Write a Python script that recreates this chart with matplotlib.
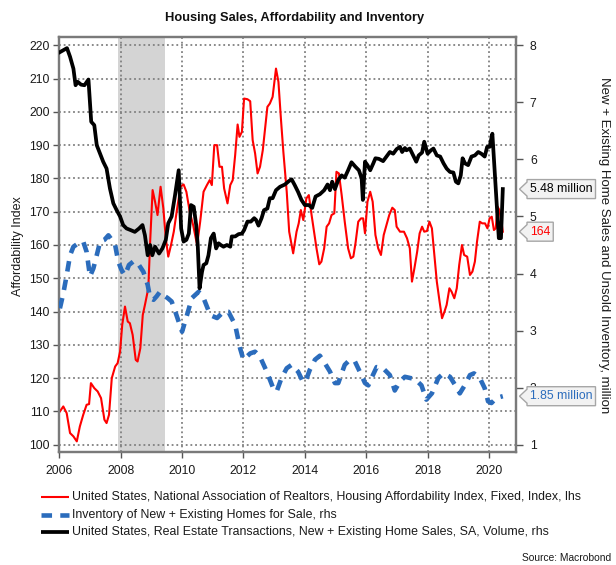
import matplotlib
matplotlib.use('Agg')
import matplotlib.pyplot as plt
from matplotlib.lines import Line2D
from matplotlib.patches import Polygon
from matplotlib.transforms import IdentityTransform

plt.rcParams['font.family'] = ['Liberation Sans', 'DejaVu Sans']

# ---------------- data ----------------
afford_x = [2006.02, 2006.13, 2006.24, 2006.35, 2006.46, 2006.57, 2006.67, 2006.78, 2006.89, 2006.97,
            2007.03, 2007.14, 2007.25, 2007.36, 2007.47, 2007.54, 2007.62, 2007.71, 2007.82, 2007.90,
            2007.98, 2008.05, 2008.14, 2008.23, 2008.30, 2008.39, 2008.49, 2008.55, 2008.64, 2008.72,
            2008.79, 2008.90, 2008.96, 2009.04, 2009.12, 2009.20, 2009.30, 2009.39, 2009.47, 2009.55,
            2009.64, 2009.73, 2009.84, 2009.95, 2010.05, 2010.14, 2010.25, 2010.36, 2010.49, 2010.59,
            2010.70, 2010.81, 2010.90, 2010.97, 2011.05, 2011.14, 2011.22, 2011.30, 2011.37, 2011.48,
            2011.57, 2011.65, 2011.73, 2011.81, 2011.87, 2011.95, 2012.02, 2012.13, 2012.22, 2012.30,
            2012.38, 2012.46, 2012.54, 2012.63, 2012.70, 2012.78, 2012.86, 2012.95, 2013.06, 2013.14,
            2013.22, 2013.30, 2013.41, 2013.49, 2013.62, 2013.73, 2013.80, 2013.87, 2013.95, 2014.05,
            2014.13, 2014.22, 2014.30, 2014.38, 2014.47, 2014.54, 2014.63, 2014.71, 2014.79, 2014.87,
            2014.96, 2015.03, 2015.11, 2015.20, 2015.30, 2015.41, 2015.50, 2015.58, 2015.65, 2015.74,
            2015.83, 2015.90, 2015.96, 2016.04, 2016.13, 2016.21, 2016.30, 2016.39, 2016.48, 2016.57,
            2016.66, 2016.75, 2016.85, 2016.93, 2016.99, 2017.10, 2017.23, 2017.33, 2017.42, 2017.49,
            2017.57, 2017.66, 2017.74, 2017.82, 2017.89, 2017.98, 2018.06, 2018.14, 2018.22, 2018.30,
            2018.39, 2018.47, 2018.55, 2018.62, 2018.71, 2018.78, 2018.87, 2018.95, 2019.03, 2019.12,
            2019.19, 2019.29, 2019.38, 2019.46, 2019.54, 2019.61, 2019.70, 2019.78, 2019.87, 2019.95,
            2020.02, 2020.09, 2020.16, 2020.22, 2020.28, 2020.34, 2020.42, 2020.45]
afford_y = [110, 111.5, 109.5, 103.5, 102.5, 101, 105.5, 109, 112, 112.2,
            118.5, 117, 116, 114, 107.5, 106.5, 109, 120, 123.5, 124.5,
            128, 136, 141.5, 137, 136.5, 133, 125.5, 125, 129, 139,
            142, 147, 161, 176.5, 173, 169, 177.5, 171, 162, 156.5,
            160, 164, 171, 177.5, 178.2, 176, 170, 166, 160, 167,
            176, 178, 179.5, 178, 190, 190, 183.5, 183.5, 177, 172.5,
            178, 179.5, 187, 196.2, 192.5, 194, 204, 203.8, 203.2, 191.5,
            187.5, 181.5, 183.5, 188.5, 194.5, 201.5, 202.5, 204.5, 213, 209,
            198, 188, 176, 164, 157.5, 164, 166.5, 170.5, 167.5, 174,
            175, 169, 164, 159, 154.2, 155, 159, 165.5, 166.5, 169,
            169.5, 182, 181.5, 175, 167, 159, 156, 156.5, 160.5, 167,
            168, 168, 163.5, 173, 176, 173, 163, 159, 157, 163,
            166, 169, 171.2, 170.5, 165.5, 164, 164, 162, 159, 149,
            153, 158, 163.5, 165.5, 164, 164.2, 167, 165, 157, 149,
            143, 138, 140, 142, 147, 146, 144, 147, 154, 160,
            157, 156.5, 151, 152, 155, 161, 167, 166.5, 166.5, 165,
            168, 168.5, 164.5, 165, 171.5, 170.5, 166, 164]

inv_x = [2006.02, 2006.13, 2006.24, 2006.35, 2006.46, 2006.62, 2006.78, 2006.89, 2007.00, 2007.11,
         2007.22, 2007.33, 2007.47, 2007.60, 2007.71, 2007.82, 2007.92, 2008.03, 2008.14, 2008.27,
         2008.41, 2008.52, 2008.63, 2008.74, 2008.88, 2008.96, 2009.07, 2009.17, 2009.28, 2009.39,
         2009.53, 2009.66, 2009.78, 2010.00, 2010.16, 2010.32, 2010.54, 2010.70, 2010.92, 2011.14,
         2011.35, 2011.51, 2011.73, 2011.89, 2012.00, 2012.22, 2012.38, 2012.54, 2012.76, 2012.97,
         2013.08, 2013.24, 2013.41, 2013.57, 2013.78, 2013.95, 2014.05, 2014.16, 2014.33, 2014.49,
         2014.65, 2014.82, 2014.98, 2015.09, 2015.20, 2015.30, 2015.47, 2015.63, 2015.79, 2015.96,
         2016.07, 2016.20, 2016.34, 2016.55, 2016.77, 2016.93, 2017.10, 2017.26, 2017.59, 2017.80,
         2017.96, 2018.14, 2018.35, 2018.52, 2018.73, 2018.89, 2019.05, 2019.22, 2019.38, 2019.51,
         2019.70, 2019.86, 2019.97, 2020.08, 2020.24, 2020.45]
inv_y = [3.39, 3.65, 3.97, 4.32, 4.47, 4.53, 4.56, 4.38, 3.95, 4.09,
         4.32, 4.56, 4.59, 4.67, 4.59, 4.50, 4.21, 4.06, 3.97, 4.15,
         4.21, 4.21, 4.12, 4.03, 3.80, 3.57, 3.54, 3.60, 3.68, 3.62,
         3.57, 3.51, 3.33, 2.98, 3.27, 3.57, 3.68, 3.57, 3.27, 3.22,
         3.33, 3.33, 3.10, 2.69, 2.49, 2.60, 2.63, 2.54, 2.28, 1.99,
         1.93, 2.17, 2.34, 2.40, 2.28, 2.09, 2.15, 2.31, 2.49, 2.56,
         2.43, 2.28, 2.08, 2.08, 2.25, 2.40, 2.49, 2.46, 2.28, 2.08,
         2.04, 2.20, 2.36, 2.34, 2.22, 1.95, 2.11, 2.19, 2.15, 2.04,
         1.79, 1.90, 2.17, 2.25, 2.19, 2.05, 1.90, 2.05, 2.22, 2.25,
         2.17, 1.99, 1.76, 1.73, 1.82, 1.85]

sales_x = [2006.02, 2006.25, 2006.35, 2006.46, 2006.53, 2006.60, 2006.71, 2006.82, 2006.95, 2007.04,
           2007.14, 2007.22, 2007.33, 2007.43, 2007.54, 2007.65, 2007.76, 2007.87, 2007.98, 2008.08,
           2008.19, 2008.33, 2008.46, 2008.60, 2008.71, 2008.79, 2008.88, 2008.96, 2009.03, 2009.12,
           2009.25, 2009.36, 2009.47, 2009.55, 2009.66, 2009.77, 2009.89, 2009.97, 2010.05, 2010.14,
           2010.22, 2010.29, 2010.38, 2010.46, 2010.51, 2010.57, 2010.65, 2010.70, 2010.79, 2010.86,
           2010.94, 2011.03, 2011.11, 2011.19, 2011.26, 2011.35, 2011.46, 2011.57, 2011.62, 2011.73,
           2011.84, 2011.95, 2012.02, 2012.13, 2012.24, 2012.35, 2012.41, 2012.49, 2012.59, 2012.67,
           2012.78, 2012.86, 2012.95, 2013.06, 2013.19, 2013.35, 2013.48, 2013.57, 2013.67, 2013.78,
           2013.89, 2014.00, 2014.13, 2014.24, 2014.35, 2014.49, 2014.63, 2014.74, 2014.82, 2014.89,
           2014.98, 2015.09, 2015.20, 2015.30, 2015.41, 2015.52, 2015.65, 2015.76, 2015.85, 2015.89,
           2015.96, 2016.04, 2016.13, 2016.23, 2016.30, 2016.41, 2016.55, 2016.66, 2016.77, 2016.88,
           2016.99, 2017.10, 2017.17, 2017.26, 2017.31, 2017.42, 2017.53, 2017.63, 2017.71, 2017.82,
           2017.89, 2018.00, 2018.11, 2018.19, 2018.30, 2018.41, 2018.52, 2018.62, 2018.73, 2018.84,
           2018.92, 2019.00, 2019.08, 2019.14, 2019.22, 2019.32, 2019.43, 2019.54, 2019.65, 2019.75,
           2019.86, 2019.94, 2020.02, 2020.11, 2020.18, 2020.26, 2020.32, 2020.39, 2020.45]
sales_y = [7.88, 7.95, 7.80, 7.59, 7.30, 7.36, 7.31, 7.30, 7.40, 6.66,
           6.60, 6.25, 6.10, 5.96, 5.84, 5.49, 5.23, 5.11, 5.00, 4.85,
           4.79, 4.76, 4.73, 4.79, 4.85, 4.67, 4.32, 4.50, 4.32, 4.47,
           4.35, 4.44, 4.59, 4.88, 5.00, 5.37, 5.81, 4.79, 4.56, 4.59,
           4.70, 5.20, 5.17, 4.85, 4.50, 3.74, 4.03, 4.15, 4.18, 4.32,
           4.62, 4.70, 4.44, 4.53, 4.50, 4.47, 4.50, 4.47, 4.65, 4.65,
           4.69, 4.70, 4.76, 4.91, 4.91, 4.97, 4.94, 4.84, 4.97, 5.11,
           5.14, 5.32, 5.32, 5.46, 5.52, 5.56, 5.62, 5.65, 5.55, 5.43,
           5.29, 5.20, 5.20, 5.15, 5.35, 5.39, 5.46, 5.56, 5.46, 5.61,
           5.48, 5.64, 5.72, 5.68, 5.81, 5.95, 5.87, 5.81, 5.67, 5.29,
           5.96, 5.90, 5.81, 5.93, 6.02, 6.01, 5.97, 6.05, 6.13, 6.10,
           6.18, 6.22, 6.13, 6.20, 6.16, 6.19, 6.07, 5.96, 6.07, 6.12,
           6.31, 6.10, 6.16, 6.19, 6.07, 6.05, 5.93, 5.84, 5.78, 5.77,
           5.61, 5.58, 5.72, 6.02, 5.93, 5.90, 6.05, 6.07, 6.13, 6.10,
           6.05, 6.22, 6.22, 6.45, 5.84, 5.14, 4.62, 4.62, 5.48]

recession = [2007.92, 2009.45]

x_ticks = [2006, 2008, 2010, 2012, 2014, 2016, 2018, 2020]
left_ticks = [100, 110, 120, 130, 140, 150, 160, 170, 180, 190, 200, 210, 220]
right_ticks = [1, 2, 3, 4, 5, 6, 7, 8]

labels = ["United States, National Association of Realtors, Housing Affordability Index, Fixed, Index, lhs",
          "Inventory of New + Existing Homes for Sale, rhs",
          "United States, Real Estate Transactions, New + Existing Home Sales, SA, Volume, rhs"]
tag_texts = ["5.48 million", "164", "1.85 million"]
tag_values = [5.48, 164, 1.85]

RED = '#ff0000'
BLUE = '#2b6cbc'
BLACK = '#000000'

# ---------------- figure ----------------
W, H = 616, 565
fig = plt.figure(figsize=(W / 100, H / 100), dpi=100)


def fx(px):
    return px / W


def fy(py):
    return 1 - py / H


AX_L, AX_R, AX_T, AX_B = 59.3, 516.0, 37.3, 452.3
ax = fig.add_axes([fx(AX_L), fy(AX_B), fx(AX_R) - fx(AX_L), fy(AX_T) - fy(AX_B)])
ax2 = ax.twinx()

ylim_l = (97.72, 222.40)
ax.set_ylim(*ylim_l)
ax2.set_ylim(1 + (ylim_l[0] - 100) * 7 / 120, 1 + (ylim_l[1] - 100) * 7 / 120)
ax.set_xlim(2006.0, 2020.88)

ax.axvspan(recession[0], recession[1], color='#d4d4d4', zorder=0, lw=0)
ax.set_axisbelow(True)
grid_kw = dict(color='#808080', linestyle=(0, (1.0, 1.6)), linewidth=1.3)
ax.grid(True, which='major', **grid_kw)

l_red, = ax.plot(afford_x, afford_y, color=RED, lw=1.5, zorder=3)
l_blue, = ax2.plot(inv_x, inv_y, color=BLUE, lw=3.3, dashes=(2.3, 1.8), zorder=3)
l_black, = ax2.plot(sales_x, sales_y, color=BLACK, lw=2.7, zorder=4)

ax.set_xticks(x_ticks)
ax.set_xticklabels([str(t) for t in x_ticks])
ax.set_yticks(left_ticks)
ax2.set_yticks(right_ticks)

for a in (ax, ax2):
    for s in a.spines.values():
        s.set_color('#7a7a7a')
        s.set_linewidth(1.6)
ax.tick_params(axis='both', direction='out', length=4, width=1, color='#555555',
               labelsize=8.8, labelcolor='#1a1a1a', pad=3)
ax.tick_params(axis='x', pad=5)
ax2.tick_params(axis='y', direction='out', length=5, width=1, color='#555555',
                labelsize=8.8, labelcolor='#1a1a1a', pad=5)

fig.text(fx(18), fy(246), "Affordability Index", rotation=90, fontsize=9, color='#1a1a1a',
         ha='center', va='center')
fig.text(fx(604), fy(245), "New + Existing Home Sales and Unsold Inventory, million",
         rotation=270, fontsize=9.5, color='#1a1a1a', ha='center', va='center')

fig.text(fx(295), fy(18), "Housing Sales, Affordability and Inventory",
         fontsize=9.3, fontweight='bold', ha='center', va='center', color='#111111')

# legend (drawn manually at figure pixel positions)
rows = [496.7, 515.0, 532.3]
handles = [dict(color=RED, lw=1.5), dict(color=BLUE, lw=3.3, dashes=(2.3, 1.8)),
           dict(color=BLACK, lw=2.7)]
for yy, lab, hk in zip(rows, labels, handles):
    fig.add_artist(Line2D([fx(40.5), fx(68.8)], [fy(yy), fy(yy)], transform=fig.transFigure,
                          solid_capstyle='butt', **hk))
    fig.text(fx(72), fy(yy), lab, fontsize=8.9, va='center', ha='left', color='#1a1a1a')

fig.text(fx(611), fy(558), "Source: Macrobond", fontsize=7.4, ha='right', va='center',
         color='#1a1a1a')

# value tags on the right axis
fig.canvas.draw()
tag_axes = [ax2, ax, ax2]
tag_colors = [BLACK, RED, BLUE]
ident = IdentityTransform()
for t_axis, val, txt, col in zip(tag_axes, tag_values, tag_texts, tag_colors):
    ydisp = t_axis.transData.transform((2010, val))[1]
    x_tip, x_left = 519.5, 527.0
    t = fig.text(x_left + 3.0, ydisp, txt, fontsize=8.8, color=col, va='center', ha='left',
                 transform=ident, zorder=6)
    bb = t.get_window_extent(renderer=fig.canvas.get_renderer())
    x_right = bb.x1 + 3.0
    hh, nh = 9.5, 7.0
    pts = [(x_tip, ydisp), (x_left, ydisp + nh), (x_left, ydisp + hh), (x_right, ydisp + hh),
           (x_right, ydisp - hh), (x_left, ydisp - hh), (x_left, ydisp - nh)]
    poly = Polygon(pts, closed=True, transform=ident, facecolor='#f2f2f2',
                   edgecolor='#a6a6a6', lw=1.0, zorder=5)
    fig.add_artist(poly)

fig.savefig('out.png', dpi=100)
